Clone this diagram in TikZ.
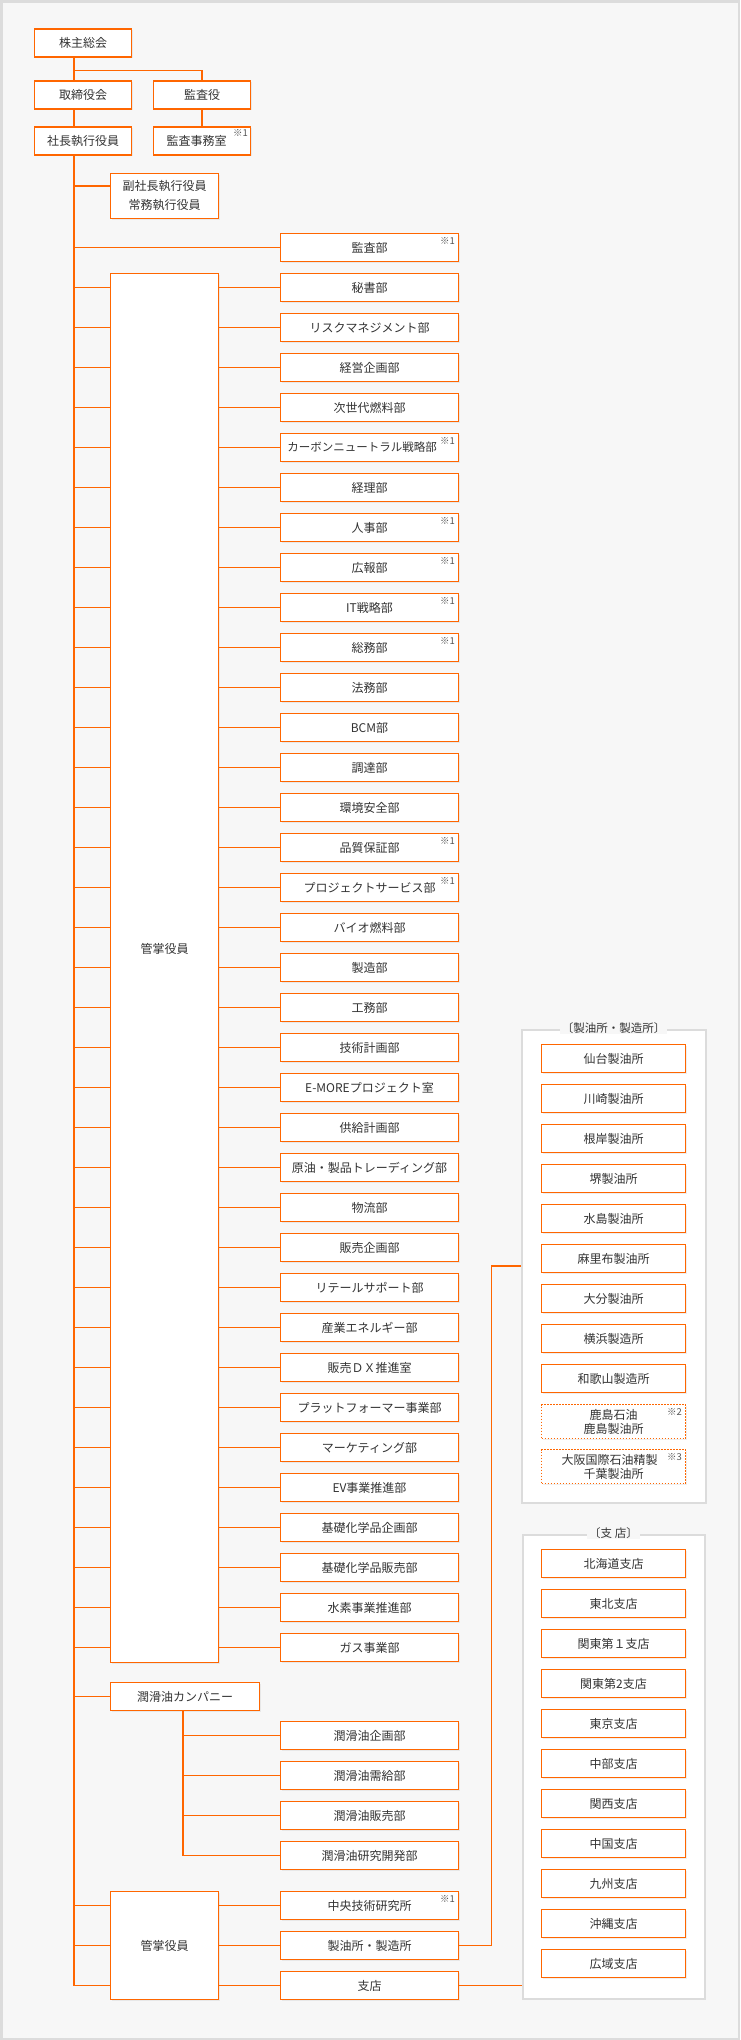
\documentclass[tikz,border=0pt]{standalone}
\usepackage{fontspec}
\setmainfont{Noto Sans CJK JP}
\usetikzlibrary{shadows}
\definecolor{orgline}{HTML}{FF6600}
\definecolor{grpline}{HTML}{DCDCDC}
\definecolor{pagebg}{HTML}{F7F7F7}
\definecolor{txtgray}{HTML}{333333}
\definecolor{notegray}{HTML}{555555}

\begin{document}
\begin{tikzpicture}[x=1pt, y=-1pt,
    box/.style={rectangle, draw=orgline, line width=1.3pt, fill=white, inner sep=0pt,
        minimum width=178pt, minimum height=28pt, text=txtgray,
        font=\fontsize{12}{14}\selectfont,
        drop shadow={shadow xshift=1pt, shadow yshift=-1pt, opacity=0.12}},
    topbox/.style={box, minimum width=97pt},
    kbox/.style={box, minimum width=108pt},
    unitbox/.style={box, minimum width=144pt},
    dotbox/.style={unitbox, minimum height=34pt, align=center, dash pattern=on 1.5pt off 1.5pt},
    grp/.style={rectangle, draw=grpline, line width=2pt, fill=white, inner sep=0pt},
    grptitle/.style={fill=pagebg, inner xsep=2pt, inner ysep=0pt, text=txtgray,
        font=\fontsize{11.5}{13}\selectfont},
    note/.style={anchor=north east, inner sep=0pt, text=notegray, font=\fontsize{9.5}{10}\selectfont},
    link/.style={draw=orgline, line width=1.3pt}]

    % Page
    \useasboundingbox (0,0) rectangle (740,2040);
    \draw[grpline, line width=2.5pt, fill=pagebg] (1.25,1.25) rectangle (738.75,2038.75);

    % Top nodes
    \node[topbox] (S) at (83,43) {株主総会};
    \node[topbox] (T) at (83,95) {取締役会};
    \node[topbox] (A) at (202,95) {監査役};
    \node[topbox] (P) at (83,141) {社長執行役員};
    \node[topbox] (AO) at (202,141) {監査事務室\hspace*{11pt}};
    \node[note] (AOn) at ([xshift=-3pt,yshift=-3pt]AO.north east) {※1};
    \node[kbox, minimum height=45pt, align=center, font=\fontsize{12}{19}\selectfont] (V) at (164.5,196) {副社長執行役員\\常務執行役員};
    \node[box] (AD) at (369.5,247.5) {監査部};
    \node[note] (ADn) at ([xshift=-4pt,yshift=-4pt]AD.north east) {※1};

    % Departments
    \node[kbox, minimum height=1389pt] (K1) at (164.5,968) {};
    \node[inner sep=0pt, text=txtgray, font=\fontsize{12}{14}\selectfont] (K1t) at ([yshift=19pt]K1.center) {管掌役員};
    \node[box] (D1) at (369.5,287.5) {秘書部};
    \node[box] (D2) at (369.5,327.5) {リスクマネジメント部};
    \node[box] (D3) at (369.5,367.5) {経営企画部};
    \node[box] (D4) at (369.5,407.5) {次世代燃料部};
    \node[box] (D5) at (369.5,447.5) {\fontsize{11.5}{14}\selectfont カーボンニュートラル戦略部\hspace*{15pt}};
    \node[box] (D6) at (369.5,487.5) {経理部};
    \node[box] (D7) at (369.5,527.5) {人事部};
    \node[box] (D8) at (369.5,567.5) {広報部};
    \node[box] (D9) at (369.5,607.5) {IT戦略部};
    \node[box] (D10) at (369.5,647.5) {総務部};
    \node[box] (D11) at (369.5,687.5) {法務部};
    \node[box] (D12) at (369.5,727.5) {BCM部};
    \node[box] (D13) at (369.5,767.5) {調達部};
    \node[box] (D14) at (369.5,807.5) {環境安全部};
    \node[box] (D15) at (369.5,847.5) {品質保証部};
    \node[box] (D16) at (369.5,887.5) {プロジェクトサービス部};
    \node[box] (D17) at (369.5,927.5) {バイオ燃料部};
    \node[box] (D18) at (369.5,967.5) {製造部};
    \node[box] (D19) at (369.5,1007.5) {工務部};
    \node[box] (D20) at (369.5,1047.5) {技術計画部};
    \node[box] (D21) at (369.5,1087.5) {E-MOREプロジェクト室};
    \node[box] (D22) at (369.5,1127.5) {供給計画部};
    \node[box] (D23) at (369.5,1167.5) {原油・製品トレーディング部};
    \node[box] (D24) at (369.5,1207.5) {物流部};
    \node[box] (D25) at (369.5,1247.5) {販売企画部};
    \node[box] (D26) at (369.5,1287.5) {リテールサポート部};
    \node[box] (D27) at (369.5,1327.5) {産業エネルギー部};
    \node[box] (D28) at (369.5,1367.5) {販売ＤＸ推進室};
    \node[box] (D29) at (369.5,1407.5) {プラットフォーマー事業部};
    \node[box] (D30) at (369.5,1447.5) {マーケティング部};
    \node[box] (D31) at (369.5,1487.5) {EV事業推進部};
    \node[box] (D32) at (369.5,1527.5) {基礎化学品企画部};
    \node[box] (D33) at (369.5,1567.5) {基礎化学品販売部};
    \node[box] (D34) at (369.5,1607.5) {水素事業推進部};
    \node[box] (D35) at (369.5,1647.5) {ガス事業部};
    \node[note] (D5n) at ([xshift=-4pt,yshift=-4pt]D5.north east) {※1};
    \node[note] (D7n) at ([xshift=-4pt,yshift=-4pt]D7.north east) {※1};
    \node[note] (D8n) at ([xshift=-4pt,yshift=-4pt]D8.north east) {※1};
    \node[note] (D9n) at ([xshift=-4pt,yshift=-4pt]D9.north east) {※1};
    \node[note] (D10n) at ([xshift=-4pt,yshift=-4pt]D10.north east) {※1};
    \node[note] (D15n) at ([xshift=-4pt,yshift=-4pt]D15.north east) {※1};
    \node[note] (D16n) at ([xshift=-4pt,yshift=-4pt]D16.north east) {※1};

    % Lubricants company
    \node[box, minimum width=149pt] (LC) at (185,1696.5) {潤滑油カンパニー};
    \node[box] (L1) at (369.5,1735.5) {潤滑油企画部};
    \node[box] (L2) at (369.5,1775.5) {潤滑油需給部};
    \node[box] (L3) at (369.5,1815.5) {潤滑油販売部};
    \node[box] (L4) at (369.5,1855.5) {潤滑油研究開発部};

    % Second executive block
    \node[kbox, minimum height=108pt] (K2) at (164.5,1945.5) {管掌役員};
    \node[box] (C1) at (369.5,1905.5) {中央技術研究所};
    \node[box] (C2) at (369.5,1945.5) {製油所・製造所};
    \node[box] (C3) at (369.5,1985.5) {支店};
    \node[note] (C1n) at ([xshift=-4pt,yshift=-4pt]C1.north east) {※1};

    % Refineries
    \node[grp, minimum width=184pt, minimum height=473pt] (RG) at (613.5,1266) {};
    \node[grptitle] (RGt) at (RG.north) {〔製油所・製造所〕};
    \node[unitbox] (R1) at (613.5,1058.5) {仙台製油所};
    \node[unitbox] (R2) at (613.5,1098.5) {川崎製油所};
    \node[unitbox] (R3) at (613.5,1138.5) {根岸製油所};
    \node[unitbox] (R4) at (613.5,1178.5) {堺製油所};
    \node[unitbox] (R5) at (613.5,1218.5) {水島製油所};
    \node[unitbox] (R6) at (613.5,1258.5) {麻里布製油所};
    \node[unitbox] (R7) at (613.5,1298.5) {大分製油所};
    \node[unitbox] (R8) at (613.5,1338.5) {横浜製造所};
    \node[unitbox] (R9) at (613.5,1378.5) {和歌山製造所};
    \node[dotbox] (R10) at (613.5,1421.5) {鹿島石油\\鹿島製油所};
    \node[dotbox] (R11) at (613.5,1466.5) {大阪国際石油精製\hspace*{8pt}\\千葉製油所};
    \node[note] (R10n) at ([xshift=-4pt,yshift=-4pt]R10.north east) {※2};
    \node[note] (R11n) at ([xshift=-4pt,yshift=-4pt]R11.north east) {※3};

    % Branches
    \node[grp, minimum width=182pt, minimum height=464pt] (BG) at (613.5,1766.5) {};
    \node[grptitle] (BGt) at (BG.north) {〔支 店〕};
    \node[unitbox] (B1) at (613.5,1563.5) {北海道支店};
    \node[unitbox] (B2) at (613.5,1603.5) {東北支店};
    \node[unitbox] (B3) at (613.5,1643.5) {関東第１支店};
    \node[unitbox] (B4) at (613.5,1683.5) {関東第2支店};
    \node[unitbox] (B5) at (613.5,1723.5) {東京支店};
    \node[unitbox] (B6) at (613.5,1763.5) {中部支店};
    \node[unitbox] (B7) at (613.5,1803.5) {関西支店};
    \node[unitbox] (B8) at (613.5,1843.5) {中国支店};
    \node[unitbox] (B9) at (613.5,1883.5) {九州支店};
    \node[unitbox] (B10) at (613.5,1923.5) {沖縄支店};
    \node[unitbox] (B11) at (613.5,1963.5) {広域支店};

    % Edges
    \coordinate (PT) at ([xshift=-9pt]P.south);
    \coordinate (LT) at ([xshift=-2pt]LC.south);
    \draw[link] ([xshift=-9pt]S.south) -- ([xshift=-9pt]T.north);
    \draw[link] ([xshift=-9pt,yshift=-13pt]S.south) -| (A.north);
    \draw[link] (A.south) -- (AO.north);
    \draw[link] ([xshift=-9pt]T.south) -- ([xshift=-9pt]P.north);
    \draw[link] (PT) |- (C3 -| K2.west);
    \draw[link] ([yshift=10pt]V.west -| PT) -- ([yshift=10pt]V.west);
    \draw[link] (AD -| PT) -- (AD.west);
    \draw[link] (D1 -| PT) -- (D1 -| K1.west) (D1 -| K1.east) -- (D1.west);
    \draw[link] (D2 -| PT) -- (D2 -| K1.west) (D2 -| K1.east) -- (D2.west);
    \draw[link] (D3 -| PT) -- (D3 -| K1.west) (D3 -| K1.east) -- (D3.west);
    \draw[link] (D4 -| PT) -- (D4 -| K1.west) (D4 -| K1.east) -- (D4.west);
    \draw[link] (D5 -| PT) -- (D5 -| K1.west) (D5 -| K1.east) -- (D5.west);
    \draw[link] (D6 -| PT) -- (D6 -| K1.west) (D6 -| K1.east) -- (D6.west);
    \draw[link] (D7 -| PT) -- (D7 -| K1.west) (D7 -| K1.east) -- (D7.west);
    \draw[link] (D8 -| PT) -- (D8 -| K1.west) (D8 -| K1.east) -- (D8.west);
    \draw[link] (D9 -| PT) -- (D9 -| K1.west) (D9 -| K1.east) -- (D9.west);
    \draw[link] (D10 -| PT) -- (D10 -| K1.west) (D10 -| K1.east) -- (D10.west);
    \draw[link] (D11 -| PT) -- (D11 -| K1.west) (D11 -| K1.east) -- (D11.west);
    \draw[link] (D12 -| PT) -- (D12 -| K1.west) (D12 -| K1.east) -- (D12.west);
    \draw[link] (D13 -| PT) -- (D13 -| K1.west) (D13 -| K1.east) -- (D13.west);
    \draw[link] (D14 -| PT) -- (D14 -| K1.west) (D14 -| K1.east) -- (D14.west);
    \draw[link] (D15 -| PT) -- (D15 -| K1.west) (D15 -| K1.east) -- (D15.west);
    \draw[link] (D16 -| PT) -- (D16 -| K1.west) (D16 -| K1.east) -- (D16.west);
    \draw[link] (D17 -| PT) -- (D17 -| K1.west) (D17 -| K1.east) -- (D17.west);
    \draw[link] (D18 -| PT) -- (D18 -| K1.west) (D18 -| K1.east) -- (D18.west);
    \draw[link] (D19 -| PT) -- (D19 -| K1.west) (D19 -| K1.east) -- (D19.west);
    \draw[link] (D20 -| PT) -- (D20 -| K1.west) (D20 -| K1.east) -- (D20.west);
    \draw[link] (D21 -| PT) -- (D21 -| K1.west) (D21 -| K1.east) -- (D21.west);
    \draw[link] (D22 -| PT) -- (D22 -| K1.west) (D22 -| K1.east) -- (D22.west);
    \draw[link] (D23 -| PT) -- (D23 -| K1.west) (D23 -| K1.east) -- (D23.west);
    \draw[link] (D24 -| PT) -- (D24 -| K1.west) (D24 -| K1.east) -- (D24.west);
    \draw[link] (D25 -| PT) -- (D25 -| K1.west) (D25 -| K1.east) -- (D25.west);
    \draw[link] (D26 -| PT) -- (D26 -| K1.west) (D26 -| K1.east) -- (D26.west);
    \draw[link] (D27 -| PT) -- (D27 -| K1.west) (D27 -| K1.east) -- (D27.west);
    \draw[link] (D28 -| PT) -- (D28 -| K1.west) (D28 -| K1.east) -- (D28.west);
    \draw[link] (D29 -| PT) -- (D29 -| K1.west) (D29 -| K1.east) -- (D29.west);
    \draw[link] (D30 -| PT) -- (D30 -| K1.west) (D30 -| K1.east) -- (D30.west);
    \draw[link] (D31 -| PT) -- (D31 -| K1.west) (D31 -| K1.east) -- (D31.west);
    \draw[link] (D32 -| PT) -- (D32 -| K1.west) (D32 -| K1.east) -- (D32.west);
    \draw[link] (D33 -| PT) -- (D33 -| K1.west) (D33 -| K1.east) -- (D33.west);
    \draw[link] (D34 -| PT) -- (D34 -| K1.west) (D34 -| K1.east) -- (D34.west);
    \draw[link] (D35 -| PT) -- (D35 -| K1.west) (D35 -| K1.east) -- (D35.west);
    \draw[link] (LC -| PT) -- (LC.west);
    \draw[link] (LT) |- (L4.west);
    \draw[link] (L1 -| LT) -- (L1.west);
    \draw[link] (L2 -| LT) -- (L2.west);
    \draw[link] (L3 -| LT) -- (L3.west);
    \draw[link] (C1 -| PT) -- (C1 -| K2.west) (C1 -| K2.east) -- (C1.west);
    \draw[link] (C2 -| PT) -- (C2 -| K2.west) (C2 -| K2.east) -- (C2.west);
    \draw[link] (C3 -| K2.east) -- (C3.west);
    \draw[link] (C2.east) -- ++(32,0) |- (RG.west);
    \draw[link] (C3.east) -- (C3.east -| BG.west);
\end{tikzpicture}
\end{document}
